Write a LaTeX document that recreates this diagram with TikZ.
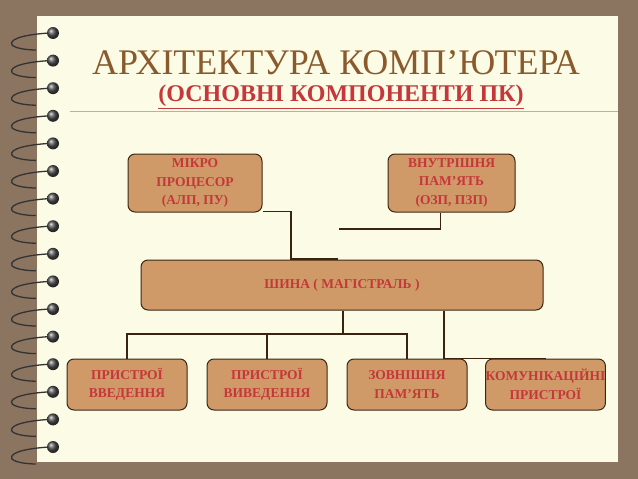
\documentclass[tikz,border=0pt]{standalone}
\usepackage{fontspec}
\setmainfont{Liberation Serif}
\begin{document}
\begin{tikzpicture}[x=1pt,y=-1pt,
  box/.style={draw=boxline,line width=1pt,fill=boxfill,rounded corners=7pt,inner sep=0pt,
    font=\fontsize{13.5}{18.5}\selectfont\bfseries,text=boxtext,align=center},
  wire/.style={draw=wirec,line width=1.6pt},
]
\definecolor{bgbrown}{HTML}{8B7560}
\definecolor{paper}{HTML}{FCFBE6}
\definecolor{boxfill}{HTML}{D09A68}
\definecolor{boxline}{HTML}{3A2816}
\definecolor{boxtext}{HTML}{C4373A}
\definecolor{wirec}{HTML}{3A2410}
\definecolor{titlec}{HTML}{8A5A2C}
\useasboundingbox (0,0) rectangle (638,479);
\fill[bgbrown] (0,0) rectangle (638,479);
\fill[paper] (37,16) rectangle (618,462);
\draw[gray!60,line width=0.6pt] (70,111) -- (618,111);
% rings
\foreach \k in {0,...,15}{
  \pgfmathsetmacro{\yy}{33+27.6*\k}
  \draw[black!80,line width=1.3pt] (50,\yy) .. controls (30,\yy+1) and (8,\yy+5) .. (12,\yy+12) .. controls (16,\yy+16) and (30,\yy+17) .. (36,\yy+17);
  \shade[ball color=black!70] (53,\yy) circle (6);
}
\node[font=\fontsize{36}{40}\selectfont,text=titlec] (title) at (336,63) {АРХІТЕКТУРА КОМП’ЮТЕРА};
\node[font=\fontsize{24}{26}\selectfont\bfseries,text=boxtext] (sub) at (341,97) {\underline{(ОСНОВНІ КОМПОНЕНТИ ПК)}};
\node[box,minimum width=134pt,minimum height=58pt] (cpu) at (195,183) {МІКРО\\ПРОЦЕСОР\\(АЛП, ПУ)};
\node[box,minimum width=127pt,minimum height=58pt] (mem) at (451.5,183) {ВНУТРІШНЯ\\ПАМ’ЯТЬ\\(ОЗП, ПЗП)};
\node[box,minimum width=402pt,minimum height=50pt] (bus) at (342,285) {ШИНА ( МАГІСТРАЛЬ )};
\node[box,minimum width=120pt,minimum height=51pt] (in) at (127,384.5) {ПРИСТРОЇ\\ВВЕДЕННЯ};
\node[box,minimum width=120pt,minimum height=51pt] (out) at (267,384.5) {ПРИСТРОЇ\\ВИВЕДЕННЯ};
\node[box,minimum width=120pt,minimum height=51pt] (ext) at (407,384.5) {ЗОВНІШНЯ\\ПАМ’ЯТЬ};
\node[box,minimum width=119pt,minimum height=51pt] (com) at (545.5,384.5) {КОМУНІКАЦІЙНІ\\ПРИСТРОЇ};
\coordinate (c1) at (338,259);
\coordinate (c2) at (339,229);
\coordinate (j) at (343,334);
\draw[wire] (cpu.south east) ++(0,-1) -| (291,259) -- (c1);
\draw[wire] (mem.south) ++(-11,0) |- (c2);
\draw[wire] (bus.south -| j) -- (j);
\draw[wire] (in.north) |- (j) -| (ext.north);
\draw[wire] (out.north) -- (out.north |- j);
\draw[wire] (bus.south -| 444,0) |- (com.north);
\end{tikzpicture}
\end{document}
